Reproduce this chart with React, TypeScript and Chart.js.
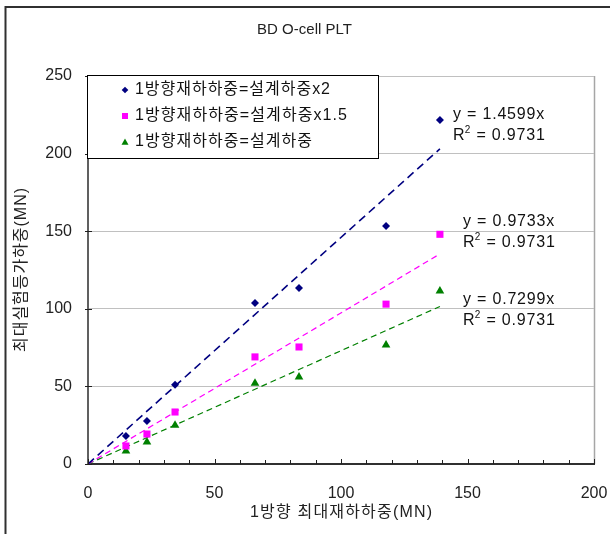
import React, { useEffect, useRef } from 'react';
import { Chart, registerables } from 'chart.js';

Chart.register(...registerables);

const titleText = 'BD O-cell PLT';
const xTitle = '1방향 최대재하하중(MN)';
const yTitle = '최대실험등가하중(MN)';
const seriesNames = [
  '1방향재하하중=설계하중x2',
  '1방향재하하중=설계하중x1.5',
  '1방향재하하중=설계하중',
];
const xValues = [15.0, 23.3, 34.4, 66.0, 83.4, 117.8, 139.1];
const yDouble = [18, 27.7, 51, 103.7, 113.4, 153.4, 221.6];
const yOneHalf = [11.6, 19.3, 33.5, 69, 75.4, 103, 148];
const ySingle = [8.4, 14.2, 25, 52, 56, 76.7, 111.5];
const slopes = [1.4599, 0.9733, 0.7299];
const rSquared = ['0.9731', '0.9731', '0.9731'];
const trendEndX = 139.1;
const xTickValues = [0, 50, 100, 150, 200];
const yTickValues = [0, 50, 100, 150, 200, 250];

const colors = ['#000080', '#FF00FF', '#008000'];
const pointStyles = ['rectRot', 'rect', 'triangle'];
const pointRadii = [4, 5, 5];
const FONT = '"Liberation Sans", "Noto Sans CJK KR", sans-serif';
const legendWidths = [195, 212, 177];

function drawMarker(ctx: CanvasRenderingContext2D, style: string, x: number, y: number) {
  ctx.beginPath();
  if (style === 'rectRot') {
    const r = 3.3;
    ctx.moveTo(x, y - r);
    ctx.lineTo(x + r, y);
    ctx.lineTo(x, y + r);
    ctx.lineTo(x - r, y);
    ctx.closePath();
  } else if (style === 'rect') {
    ctx.rect(x - 3, y - 3, 6, 6);
  } else {
    ctx.moveTo(x, y - 3.5);
    ctx.lineTo(x + 3.5, y + 2.8);
    ctx.lineTo(x - 3.5, y + 2.8);
    ctx.closePath();
  }
  ctx.fill();
}

// draw text left-aligned from x, spread to the given width
function spreadText(ctx: any, text: string, x: number, y: number, width: number) {
  ctx.letterSpacing = '0px';
  const m = ctx.measureText(text).width;
  const n = Array.from(text).length;
  const sp = n > 1 ? Math.max(0, (width - m) / (n - 1)) : 0;
  ctx.letterSpacing = `${sp}px`;
  ctx.textAlign = 'left';
  ctx.fillText(text, x, y);
  ctx.letterSpacing = '0px';
}

const overlay = {
  id: 'overlay',
  beforeDraw(chart: any) {
    const ctx = chart.ctx;
    const a = chart.chartArea;
    ctx.save();
    ctx.strokeStyle = '#303030';
    ctx.lineWidth = 2;
    ctx.beginPath();
    ctx.moveTo(5.5, 534);
    ctx.lineTo(5.5, 7);
    ctx.lineTo(610, 7);
    ctx.stroke();
    ctx.strokeStyle = '#a6a6a6';
    ctx.lineWidth = 1.5;
    ctx.beginPath();
    ctx.moveTo(a.right + 0.5, a.top);
    ctx.lineTo(a.right + 0.5, a.bottom);
    ctx.stroke();
    ctx.restore();
  },
  afterDatasetsDraw(chart: any) {
    const ctx = chart.ctx;
    const a = chart.chartArea;
    const xs = chart.scales.x;
    const ys = chart.scales.y;
    ctx.save();
    ctx.strokeStyle = '#202020';
    ctx.lineWidth = 1;
    for (let v = 0; v <= 200; v += 10) {
      const px = Math.round(xs.getPixelForValue(v)) + 0.5;
      ctx.beginPath();
      ctx.moveTo(px, a.bottom);
      ctx.lineTo(px, a.bottom - (v % 50 === 0 ? 5 : 4));
      ctx.stroke();
    }
    yTickValues.forEach((v) => {
      const py = Math.round(ys.getPixelForValue(v)) + 0.5;
      ctx.beginPath();
      ctx.moveTo(a.left - 3, py);
      ctx.lineTo(a.left + 4, py);
      ctx.stroke();
    });

    ctx.fillStyle = '#222';
    ctx.textBaseline = 'middle';
    ctx.font = `15px ${FONT}`;
    spreadText(ctx, titleText, 257, 30, 95);

    ctx.font = `16px ${FONT}`;
    const xc = (a.left + a.right) / 2;
    spreadText(ctx, xTitle, xc - 91, 513, 182);
    ctx.save();
    ctx.translate(22, (a.top + a.bottom) / 2);
    ctx.rotate(-Math.PI / 2);
    spreadText(ctx, yTitle, -82, 0, 164);
    ctx.restore();

    const lx = 87, ly = 75, lw = 291, lh = 83;
    ctx.fillStyle = '#ffffff';
    ctx.fillRect(lx, ly, lw, lh);
    ctx.strokeStyle = '#000';
    ctx.lineWidth = 1;
    ctx.strokeRect(lx + 0.5, ly + 0.5, lw, lh);
    ctx.font = `16px ${FONT}`;
    seriesNames.forEach((name, i) => {
      const cy = 90 + i * 26;
      ctx.fillStyle = colors[i];
      drawMarker(ctx, pointStyles[i], 125, cy);
      ctx.fillStyle = '#111';
      spreadText(ctx, name, 135, cy, legendWidths[i]);
    });

    const labelPos = [
      [453, 115],
      [463, 222],
      [463, 300],
    ];
    ctx.fillStyle = '#111';
    ctx.textAlign = 'left';
    slopes.forEach((s, i) => {
      const [tx, ty] = labelPos[i];
      ctx.font = `16px ${FONT}`;
      ctx.letterSpacing = '0.8px';
      ctx.fillText(`y = ${s.toFixed(4)}x`, tx, ty);
      const ry = ty + 21;
      ctx.fillText('R', tx, ry);
      const rw = ctx.measureText('R').width;
      ctx.font = `10px ${FONT}`;
      ctx.fillText('2', tx + rw - 0.5, ry - 6);
      const sw = ctx.measureText('2').width;
      ctx.font = `16px ${FONT}`;
      ctx.fillText(` = ${rSquared[i]}`, tx + rw + sw - 0.5, ry);
      ctx.letterSpacing = '0px';
    });
    ctx.restore();
  },
};

const seriesValues = [yDouble, yOneHalf, ySingle];

export default function App() {
  const ref = useRef<HTMLCanvasElement | null>(null);
  useEffect(() => {
    document.body.style.margin = '0';
    if (!ref.current) return;
    const scatterSets = seriesValues.map((ys, i) => ({
      type: 'scatter' as const,
      label: seriesNames[i],
      data: xValues.map((x, j) => ({ x, y: ys[j] })),
      pointStyle: pointStyles[i],
      pointRadius: pointRadii[i],
      backgroundColor: colors[i],
      borderColor: colors[i],
      borderWidth: 0,
      showLine: false,
      order: 1,
    }));
    const trendSets = slopes.map((s, i) => ({
      type: 'line' as const,
      label: 'trend ' + i,
      data: [
        { x: 0, y: 0 },
        { x: trendEndX, y: s * trendEndX },
      ],
      borderColor: colors[i],
      borderWidth: i === 0 ? 1.6 : 1.2,
      borderDash: i === 0 ? [8, 5] : [6, 4],
      pointRadius: 0,
      fill: false,
      order: 2,
    }));
    const chart = new Chart(ref.current, {
      type: 'scatter',
      data: { datasets: [...trendSets, ...scatterSets] as any },
      options: {
        animation: false,
        responsive: false,
        maintainAspectRatio: false,
        layout: { padding: { top: 76, right: 16, left: 0, bottom: 0 } },
        plugins: {
          legend: { display: false },
          title: { display: false },
          tooltip: { enabled: false },
        },
        scales: {
          x: {
            type: 'linear',
            min: 0,
            max: 200,
            afterFit: (s: any) => {
              s.height = 70;
              s.paddingLeft = 0;
              s.paddingRight = 0;
            },
            afterBuildTicks: (s: any) => {
              s.ticks = xTickValues.map((v) => ({ value: v }));
            },
            ticks: {
              color: '#222',
              font: { family: FONT, size: 16 },
              padding: 12,
              maxRotation: 0,
            },
            grid: { display: false },
            border: { display: true, color: '#303030', width: 2 },
          },
          y: {
            type: 'linear',
            min: 0,
            max: 250,
            afterFit: (s: any) => {
              s.width = 88;
              s.paddingTop = 0;
              s.paddingBottom = 0;
            },
            afterBuildTicks: (s: any) => {
              s.ticks = yTickValues.map((v) => ({ value: v }));
            },
            ticks: {
              color: '#222',
              font: { family: FONT, size: 16 },
              padding: 16,
            },
            grid: { color: '#c0c0c0', lineWidth: 1, drawTicks: false },
            border: { display: true, color: '#606060', width: 2 },
          },
        },
      },
      plugins: [overlay],
    });
    return () => chart.destroy();
  }, []);
  return (
    <div style={{ position: 'absolute', left: 0, top: 0, width: 610, height: 534, background: '#fff' }}>
      <canvas ref={ref} width={610} height={534} style={{ width: 610, height: 534 }} />
    </div>
  );
}
